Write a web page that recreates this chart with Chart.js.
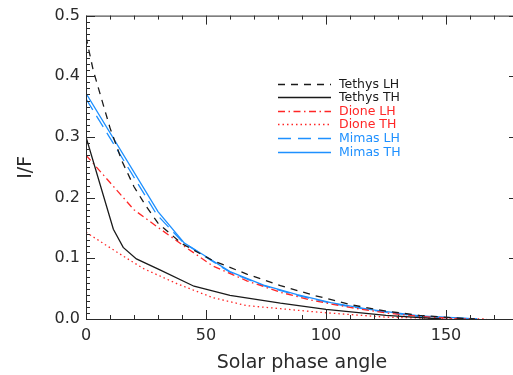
<!DOCTYPE html>
<html>
<head>
<meta charset="utf-8">
<script src="https://cdn.jsdelivr.net/npm/chart.js@4"></script>
<style>
  html, body { margin: 0; padding: 0; background: #fff; overflow: hidden; }
  #wrap { width: 513px; height: 375px; overflow: hidden; }
</style>
</head>
<body>
<div id="wrap"><canvas id="phaseChart" width="522" height="375"></canvas></div>
<script>
// Disk-integrated I/F vs solar phase angle, leading (LH) and trailing (TH) hemispheres
const xTicks = [0, 50, 100, 150];
const yTicks = [0, 0.1, 0.2, 0.3, 0.4, 0.5];

const phaseTethysLH = [0, 3, 10, 15, 20, 25, 30, 40, 53, 67, 81, 95, 111, 125, 139, 153, 162];
const ifTethysLH    = [0.465, 0.41, 0.315, 0.26, 0.218, 0.186, 0.158, 0.124, 0.096, 0.074, 0.055, 0.039, 0.023, 0.013, 0.006, 0.002, 0.0];

const phaseTethysTH = [0, 11.4, 15.5, 21, 30.8, 45, 60, 81, 100, 125, 148];
const ifTethysTH    = [0.30, 0.148, 0.118, 0.099, 0.081, 0.054, 0.039, 0.026, 0.016, 0.006, 0.0];

const phaseDioneLH = [0, 10, 20, 30, 42, 53, 67, 81, 95, 110, 125, 140, 158];
const ifDioneLH    = [0.27, 0.225, 0.18, 0.151, 0.117, 0.087, 0.063, 0.044, 0.03, 0.019, 0.01, 0.004, 0.0];

const phaseDioneTH = [0, 8.6, 17, 24, 38, 53, 67, 81, 97.5, 125, 145, 167];
const ifDioneTH    = [0.143, 0.121, 0.1, 0.083, 0.058, 0.035, 0.022, 0.017, 0.011, 0.003, 0.001, 0.0];

const phaseMimasLH = [0, 29.5, 40.5, 48, 60, 74, 88, 102, 118, 139, 163];
const ifMimasLH    = [0.363, 0.172, 0.126, 0.107, 0.077, 0.055, 0.039, 0.026, 0.015, 0.004, 0.0];

const phaseMimasTH = [0, 30, 41, 48, 60, 74, 88, 102, 118, 139, 163];
const ifMimasTH    = [0.372, 0.177, 0.125, 0.108, 0.078, 0.056, 0.04, 0.027, 0.016, 0.005, 0.0];

const BLACK = '#1a1a1a';
const RED = '#ff2626';
const BLUE = '#1e90ff';
const INK = '#2a2a2a';
const FONT = 'DejaVu Sans';

function pts(xs, ys) { return xs.map((x, i) => ({ x: x, y: ys[i] })); }

function series(label, xs, ys, color, dash) {
    return {
        label: label, data: pts(xs, ys), borderColor: color, borderWidth: 1.3,
        borderDash: dash, pointRadius: 0, tension: 0, fill: false
    };
}

// IDL-style box: axis lines on all four sides, major + minor ticks pointing inwards
const boxTicks = {
    id: 'boxTicks',
    afterDraw(chart) {
        const { ctx, chartArea: a, scales: { x, y } } = chart;
        ctx.save();
        ctx.strokeStyle = INK;
        ctx.lineWidth = 1;
        ctx.strokeRect(a.left + 0.5, a.top + 0.5, a.right - a.left, a.bottom - a.top);
        ctx.beginPath();
        for (let v = 0; v <= 180; v += 10) {
            const px = Math.round(x.getPixelForValue(v)) + 0.5;
            const len = v % 50 === 0 ? 9 : 4;
            ctx.moveTo(px, a.bottom); ctx.lineTo(px, a.bottom - len);
            ctx.moveTo(px, a.top); ctx.lineTo(px, a.top + len);
        }
        for (let i = 0; i <= 50; i++) {
            const py = Math.round(y.getPixelForValue(i / 100)) + 0.5;
            const len = i % 10 === 0 ? 9 : 4;
            ctx.moveTo(a.left, py); ctx.lineTo(a.left + len, py);
            ctx.moveTo(a.right, py); ctx.lineTo(a.right - len, py);
        }
        ctx.stroke();
        ctx.restore();
    }
};

// legend: short line sample followed by coloured label
const lineKey = {
    id: 'lineKey',
    afterDraw(chart) {
        const { ctx } = chart;
        ctx.save();
        ctx.font = '12.5px ' + FONT;
        ctx.textBaseline = 'middle';
        chart.data.datasets.forEach((ds, i) => {
            const yy = Math.round(83.5 + i * 13.6) + 0.5;
            ctx.strokeStyle = ds.borderColor;
            ctx.lineWidth = 1.3;
            ctx.setLineDash(ds.borderDash || []);
            ctx.beginPath();
            ctx.moveTo(278, yy); ctx.lineTo(331, yy);
            ctx.stroke();
            ctx.setLineDash([]);
            ctx.fillStyle = ds.borderColor;
            ctx.fillText(ds.label, 339, yy);
        });
        ctx.restore();
    }
};

new Chart(document.getElementById('phaseChart'), {
    type: 'line',
    data: {
        datasets: [
            series('Tethys LH', phaseTethysLH, ifTethysLH, BLACK, [7, 6]),
            series('Tethys TH', phaseTethysTH, ifTethysTH, BLACK, []),
            series('Dione LH', phaseDioneLH, ifDioneLH, RED, [7, 3.5, 1.5, 3.5]),
            series('Dione TH', phaseDioneTH, ifDioneTH, RED, [1.5, 3]),
            series('Mimas LH', phaseMimasLH, ifMimasLH, BLUE, [13, 7]),
            series('Mimas TH', phaseMimasTH, ifMimasTH, BLUE, [])
        ]
    },
    options: {
        responsive: false,
        animation: false,
        layout: { padding: { top: 13, right: 4, left: 0, bottom: 0 } },
        plugins: { legend: { display: false }, tooltip: { enabled: false } },
        scales: {
            x: {
                type: 'linear', min: 0, max: 180,
                afterBuildTicks: s => { s.ticks = xTicks.map(v => ({ value: v })); },
                afterFit: s => { s.height = 56; },
                grid: { display: false, drawTicks: false },
                border: { display: false },
                ticks: { color: INK, font: { family: FONT, size: 16 }, padding: 7, maxRotation: 0 },
                title: { display: true, text: 'Solar phase angle', color: INK, font: { family: FONT, size: 19 }, padding: { top: 0, bottom: 1 } }
            },
            y: {
                min: 0, max: 0.5,
                afterBuildTicks: s => { s.ticks = yTicks.map(v => ({ value: v })); },
                afterFit: s => { s.width = 86; },
                grid: { display: false, drawTicks: false },
                border: { display: false },
                ticks: { color: INK, font: { family: FONT, size: 16 }, padding: 6, callback: v => v.toFixed(1) },
                title: { display: true, text: 'I/F', color: INK, font: { family: FONT, size: 19 }, padding: { top: 15, bottom: 0 } }
            }
        }
    },
    plugins: [boxTicks, lineKey]
});
</script>
</body>
</html>
